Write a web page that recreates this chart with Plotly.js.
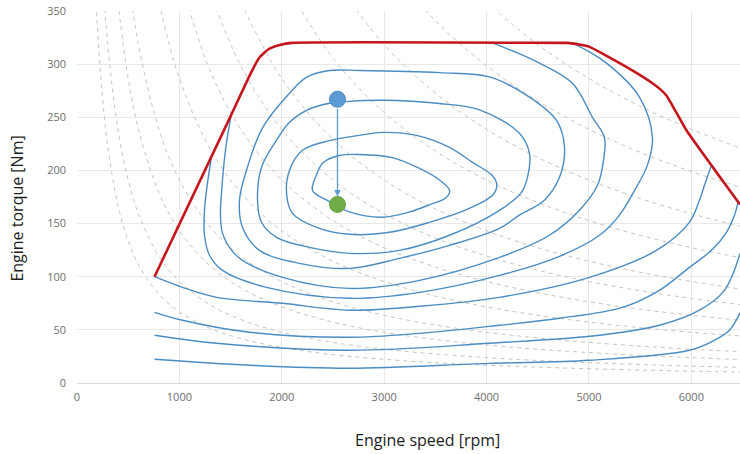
<!DOCTYPE html>
<html><head><meta charset="utf-8">
<script src="https://cdn.plot.ly/plotly-3.0.1.min.js"></script>
<style>html,body{margin:0;padding:0;background:#fff}#chart{width:740px;height:454px}</style>
</head><body><div id="chart"></div>
<script>
// ---- constant power lines (dashed) ----
const pw7_rpm = [180,200,250,300,400,500,600,800,1000,1300,1600,2000,2500,3000,3500,4000,4500,5000,5500,6000,6500];
const pw7_nm  = [371.4,334.2,267.4,222.8,167.1,133.7,111.4,83.6,66.8,51.4,41.8,33.4,26.7,22.3,19.1,16.7,14.9,13.4,12.2,11.1,10.3];
const pw10_rpm = [250,300,400,500,600,800,1000,1300,1600,2000,2500,3000,3500,4000,4500,5000,5500,6000,6500];
const pw10_nm  = [382,318.3,238.7,191,159.2,119.4,95.5,73.5,59.7,47.7,38.2,31.8,27.3,23.9,21.2,19.1,17.4,15.9,14.7];
const pw15_rpm = [400,500,600,800,1000,1300,1600,2000,2500,3000,3500,4000,4500,5000,5500,6000,6500];
const pw15_nm  = [358.1,286.5,238.7,179,143.2,110.2,89.5,71.6,57.3,47.7,40.9,35.8,31.8,28.6,26,23.9,22];
const pw20_rpm = [500,600,800,1000,1300,1600,2000,2500,3000,3500,4000,4500,5000,5500,6000,6500];
const pw20_nm  = [382,318.3,238.7,191,146.9,119.4,95.5,76.4,63.7,54.6,47.7,42.4,38.2,34.7,31.8,29.4];
const pw30_rpm = [800,1000,1300,1600,2000,2500,3000,3500,4000,4500,5000,5500,6000,6500];
const pw30_nm  = [358.1,286.5,220.4,179,143.2,114.6,95.5,81.8,71.6,63.7,57.3,52.1,47.7,44.1];
const pw40_rpm = [1000,1300,1600,2000,2500,3000,3500,4000,4500,5000,5500,6000,6500];
const pw40_nm  = [382,293.8,238.7,191,152.8,127.3,109.1,95.5,84.9,76.4,69.4,63.7,58.8];
const pw50_rpm = [1300,1600,2000,2500,3000,3500,4000,4500,5000,5500,6000,6500];
const pw50_nm  = [367.2,298.4,238.7,191,159.2,136.4,119.4,106.1,95.5,86.8,79.6,73.5];
const pw60_rpm = [1600,2000,2500,3000,3500,4000,4500,5000,5500,6000,6500];
const pw60_nm  = [358.1,286.5,229.2,191,163.7,143.2,127.3,114.6,104.2,95.5,88.1];
const pw80_rpm = [2000,2500,3000,3500,4000,4500,5000,5500,6000,6500];
const pw80_nm  = [382,305.6,254.6,218.2,191,169.8,152.8,138.9,127.3,117.5];
const pw100_rpm = [2500,3000,3500,4000,4500,5000,5500,6000,6500];
const pw100_nm  = [382,318.3,272.8,238.7,212.2,191,173.6,159.2,146.9];
const pw125_rpm = [3000,3500,4000,4500,5000,5500,6000,6500];
const pw125_nm  = [397.9,341,298.4,265.3,238.7,217,198.9,183.6];
const pw150_rpm = [4000,4500,5000,5500,6000,6500];
const pw150_nm  = [358.1,318.3,286.5,260.4,238.7,220.4];

// ---- efficiency contours (blue) ----
const loop1_rpm = [2300,2340,2400,2560,2760,3080,3320,3540,3640,3600,3450,3250,2980,2660,2440,2300];
const loop1_nm  = [181,196,207,214,215,212,203,191,181,174,168,161,156,161,172,181];
const loop2_rpm = [2759,2466,2202,2075,2046,2104,2339,2661,3052,3442,3833,4058,4100,4058,3862,3638,3315,2983,2759];
const loop2_nm  = [233,228,219,200,178.5,159.6,146.5,139.9,141.8,151.2,164.3,176.6,186,195,207.6,221.7,233,235.8,233];
const loop3_rpm = [2661,2983,3540,3931,4321,4419,4399,4341,4126,3638,3149,2661,2271,1948,1802,1763,1802,1948,2075,2241,2466,2661];
const loop3_nm  = [265,266,263,257,235,216,193.5,179.4,162.5,139,124.8,122,127.6,137.1,151.2,171.9,202.9,228.3,245.3,256.6,263.2,265];
const loop4_rpm = [2466,2759,3540,4028,4419,4683,4761,4712,4565,4321,4126,3638,3149,2661,2173,1782,1616,1587,1655,1812,2075,2241,2466];
const loop4_nm  = [294,294,292,288,269,247,222,193.5,172,158,145.5,129.5,117.3,107.8,112.6,124.8,146.5,172,200,240,272.6,287.6,294];
const c1_rpm = [1505,1450,1411,1401,1421,1509,1616,2007,2661,3345,4126,4614,4907,5083,5142,5151,5034,4839,4517,4058];
const c1_nm  = [252,219,178.5,158,141,125,115.4,99.4,89,96.6,118.2,139,162.5,186,209.5,231,250,282,301,320];
const c2_rpm = [1313,1265,1245,1245,1294,1421,1851,2661,3345,4126,4712,5103,5298,5444,5571,5620,5493,5171,4839];
const c2_nm  = [213,181.3,162.5,139,120.2,105.9,90,79.7,85.3,101.2,119.2,139,158,181,205,231,269,301,320];
const c3_rpm = [757,1030,1362,2007,2661,3345,4126,5005,5659,5981,6079,6128,6196];
const c3_nm  = [100,90,80.6,75,68.5,72.2,80.6,99.4,124.8,151.2,172,186,205];
const c4_rpm = [757,1030,1685,2661,3345,4126,4712,5327,5688,5981,6196,6343,6421,6455];
const c4_nm  = [66.5,59,47.7,43,46.7,54.3,60.9,71.2,87.2,108.8,124.8,141.8,157.8,170];
const c5_rpm = [757,1362,2661,4028,5103,5688,6079,6323,6475];
const c5_nm  = [44.9,37.4,30.8,37.4,44.9,54.3,68.5,87.2,122];
const c6_rpm = [757,1685,2661,4028,5005,5981,6225,6372,6475];
const c6_nm  = [22.3,16.7,13.9,18.5,21.4,30.8,40.2,49.6,66];

// ---- full-load torque curve (red) ----
const wot_rpm = [757,1505,1700,1780,1870,1980,2100,4700,4780,4850,4930,5000,5150,5300,5460,5620,5700,5760,5850,5950,6300,6475];
const wot_nm  = [100,252,292,306,314,318,320,320,320,319.3,318,316.5,309,301,292,282,276,270,255,238,191,168];

// ---- operating points ----
const op_rpm = [2544,2544];
const op_nm  = [267,168];

// ---- axis ticks / labels ----
const xTicks = [0,1000,2000,3000,4000,5000,6000];
const yTicks = [0,50,100,150,200,250,300,350];
const xLabel = 'Engine speed [rpm]';
const yLabel = 'Engine torque [Nm]';

const powerLines = [
  [pw7_rpm,pw7_nm],[pw10_rpm,pw10_nm],[pw15_rpm,pw15_nm],[pw20_rpm,pw20_nm],
  [pw30_rpm,pw30_nm],[pw40_rpm,pw40_nm],[pw50_rpm,pw50_nm],[pw60_rpm,pw60_nm],
  [pw80_rpm,pw80_nm],[pw100_rpm,pw100_nm],[pw125_rpm,pw125_nm],[pw150_rpm,pw150_nm]
];
const contours = [
  [loop1_rpm,loop1_nm],[loop2_rpm,loop2_nm],[loop3_rpm,loop3_nm],[loop4_rpm,loop4_nm],
  [c1_rpm,c1_nm],[c2_rpm,c2_nm],[c3_rpm,c3_nm],[c4_rpm,c4_nm],[c5_rpm,c5_nm],[c6_rpm,c6_nm]
];

const traces = [];
powerLines.forEach(p => traces.push({
  x: p[0], y: p[1], mode: 'lines', hoverinfo: 'skip',
  line: {color: '#c8c4c0', width: 1, dash: '4px,4px', shape: 'spline', smoothing: 1}
}));
contours.forEach(c => traces.push({
  x: c[0], y: c[1], mode: 'lines',
  line: {color: '#4a8cc4', width: 1.4, shape: 'spline', smoothing: 1}
}));
traces.push({x: wot_rpm, y: wot_nm, mode: 'lines',
  line: {color: '#c4161c', width: 2.6, shape: 'spline', smoothing: 0.5}});
traces.push({x: [op_rpm[0]], y: [op_nm[0]], mode: 'markers',
  marker: {size: 16, color: '#5b9bd5', line: {color: '#4f8bc4', width: 1}}});
traces.push({x: [op_rpm[1]], y: [op_nm[1]], mode: 'markers',
  marker: {size: 16, color: '#70ad47', line: {color: '#62a03c', width: 1}}});

const tickFont = {family: 'Open Sans, sans-serif', size: 11, color: '#6e6e6e'};
const layout = {
  width: 740, height: 454,
  margin: {l: 77, r: 0, t: 11, b: 71, pad: 0},
  paper_bgcolor: '#fff', plot_bgcolor: '#fff',
  showlegend: false,
  xaxis: {range: [0, 6475], tickvals: xTicks, ticktext: xTicks.map(String),
    showgrid: true, gridcolor: '#e8e8e8', gridwidth: 1, zeroline: false,
    showline: false, ticks: '', tickfont: tickFont, ticklabelstandoff: 6, fixedrange: true},
  yaxis: {range: [0, 350], tickvals: yTicks, ticktext: yTicks.map(String),
    showgrid: true, gridcolor: '#e8e8e8', gridwidth: 1, zeroline: true, zerolinecolor: '#d9d9d9',
    showline: false, ticks: '', tickfont: tickFont, ticklabelstandoff: 10, fixedrange: true},
  annotations: [
    {x: op_rpm[1], y: op_nm[1], ax: op_rpm[0], ay: op_nm[0], xref: 'x', yref: 'y', axref: 'x', ayref: 'y',
     text: '', showarrow: true, arrowhead: 2, arrowsize: 1, arrowwidth: 1.3, arrowcolor: '#5b9bd5',
     standoff: 8, startstandoff: 8},
    {text: xLabel, xref: 'paper', yref: 'paper', x: 0.528, y: -0.154, xanchor: 'center', yanchor: 'middle',
     showarrow: false, font: {family: 'Open Sans, sans-serif', size: 16, color: '#1e1e1e'}},
    {text: yLabel, xref: 'paper', yref: 'paper', x: -0.0898, y: 0.47, xanchor: 'center', yanchor: 'middle',
     textangle: -90, showarrow: false, font: {family: 'Open Sans, sans-serif', size: 16, color: '#1e1e1e'}}
  ]
};
Plotly.newPlot('chart', traces, layout, {staticPlot: true, displayModeBar: false});
</script></body></html>
